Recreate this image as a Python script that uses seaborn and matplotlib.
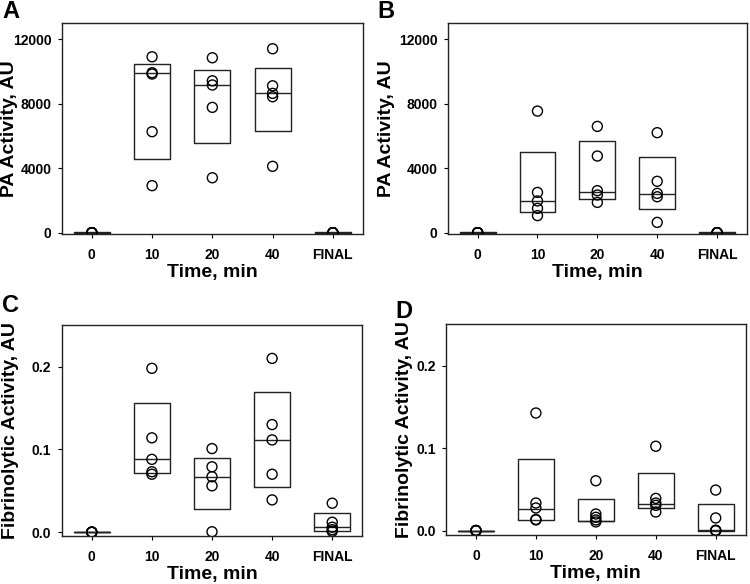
import numpy as np
import pandas as pd
import matplotlib
matplotlib.use("Agg")
import matplotlib.pyplot as plt
import seaborn as sns

categories = ["0", "10", "20", "40", "FINAL"]

# Panel A: PA activity (points per time point)
a_points = {
    "0": [0, 0, 0, 0, 0],
    "10": [10920, 9930, 9850, 6270, 2920],
    "20": [10860, 9430, 9170, 7780, 3410],
    "40": [11420, 9120, 8650, 8440, 4120],
    "FINAL": [0, 0, 0, 0, 0],
}
a_q1 = [0, 4570, 5590, 6310, 0]
a_med = [0, 9910, 9190, 8690, 0]
a_q3 = [50, 10450, 10120, 10240, 50]

# Panel B: PA activity
b_points = {
    "0": [0, 0, 0, 0, 0],
    "10": [7550, 2500, 1970, 1510, 1060],
    "20": [6600, 4760, 2610, 2340, 1880],
    "40": [6210, 3190, 2440, 2230, 640],
    "FINAL": [0, 0, 0, 0, 0],
}
b_q1 = [0, 1260, 2110, 1450, 0]
b_med = [0, 1950, 2520, 2380, 0]
b_q3 = [50, 4990, 5670, 4720, 50]

# Panel C: fibrinolytic activity
c_points = {
    "0": [0, 0, 0, 0, 0],
    "10": [0.198, 0.114, 0.088, 0.073, 0.070],
    "20": [0.101, 0.079, 0.067, 0.056, 0.0005],
    "40": [0.210, 0.130, 0.1115, 0.070, 0.039],
    "FINAL": [0.035, 0.012, 0.006, 0.003, 0.001],
}
c_q1 = [0, 0.0716, 0.0278, 0.0543, 0.0012]
c_med = [0, 0.0881, 0.0672, 0.1115, 0.0068]
c_q3 = [0, 0.1557, 0.0897, 0.1698, 0.0229]

# Panel D: fibrinolytic activity
d_points = {
    "0": [0, 0, 0, 0, 0],
    "10": [0.1425, 0.0334, 0.0274, 0.0135, 0.0129],
    "20": [0.0604, 0.0201, 0.0161, 0.0129, 0.0105],
    "40": [0.1022, 0.039, 0.0334, 0.0306, 0.0225],
    "FINAL": [0.0491, 0.0153, 0.0004, 0.0, 0.0],
}
d_q1 = [0, 0.0129, 0.0113, 0.027, 0.0]
d_med = [0, 0.0262, 0.0121, 0.0322, 0.0002]
d_q3 = [0, 0.0873, 0.0386, 0.070, 0.0322]

pa_ticks = [0, 4000, 8000, 12000]
fib_ticks = [0.0, 0.1, 0.2]
pa_tick_labels = ["0", "4000", "8000", "12000"]
fib_tick_labels = ["0.0", "0.1", "0.2"]

x_label = "Time, min"
pa_label = "PA Activity, AU"
fib_label = "Fibrinolytic Activity, AU"

sns.set_style("ticks")
plt.rcParams["font.family"] = ["Liberation Sans", "DejaVu Sans"]
plt.rcParams["font.weight"] = "bold"
for k in ["text.color", "axes.labelcolor", "xtick.color", "ytick.color", "axes.edgecolor"]:
    plt.rcParams[k] = "black"

fig = plt.figure(figsize=(7.5, 5.84), dpi=100)

panels = [
    ("A", a_points, a_q1, a_med, a_q3, pa_ticks, pa_tick_labels, pa_label, (-100, 13000),
     [61.7, 23.3, 363.0, 234.3], (2, 0), -0.144),
    ("B", b_points, b_q1, b_med, b_q3, pa_ticks, pa_tick_labels, pa_label, (-100, 13000),
     [447.7, 23.3, 747.0, 234.3], (377, 0), -0.177),
    ("C", c_points, c_q1, c_med, c_q3, fib_ticks, fib_tick_labels, fib_label, (-0.005, 0.25),
     [61.7, 325.3, 362.3, 536.3], (2, 294), -0.142),
    ("D", d_points, d_q1, d_med, d_q3, fib_ticks, fib_tick_labels, fib_label, (-0.005, 0.25),
     [446.0, 324.3, 745.7, 534.7], (395, 300), -0.110),
]

W, H = 750.0, 584.0
for letter, pts, q1, med, q3, yt, ytl, ylab, ylim, box, lpos, ylx in panels:
    l, t, r, b = box
    ax = fig.add_axes([l / W, 1 - b / H, (r - l) / W, (b - t) / H])
    rows = [(c, v) for c in categories for v in pts[c]]
    df = pd.DataFrame(rows, columns=["time", "value"])

    stats = []
    for i, c in enumerate(categories):
        stats.append(dict(med=med[i], q1=q1[i], q3=q3[i], whislo=q1[i], whishi=q3[i], fliers=[]))
    ax.bxp(stats, positions=np.arange(len(categories)), widths=0.6, showcaps=False,
           showfliers=False, manage_ticks=False, patch_artist=False,
           boxprops=dict(color="#222222", linewidth=1.0),
           medianprops=dict(color="#222222", linewidth=1.0),
           whiskerprops=dict(color="#222222", linewidth=0))

    sns.stripplot(data=df, x="time", y="value", order=categories, jitter=False,
                  size=7.2, color="white", edgecolor="black", linewidth=1.0, ax=ax, zorder=3)
    for coll in ax.collections:
        coll.set_facecolor("none")

    ax.set_xlim(-0.5, 4.5)
    ax.set_ylim(*ylim)
    ax.set_yticks(yt)
    ax.set_yticklabels(ytl)
    ax.set_xticks(np.arange(len(categories)))
    ax.set_xticklabels(categories)
    ax.tick_params(axis="both", direction="out", length=3, width=0.8, labelsize=10)
    ax.tick_params(axis="x", pad=7)
    ax.tick_params(axis="y", pad=4.5)
    for lab in ax.get_xticklabels() + ax.get_yticklabels():
        lab.set_fontweight("bold")
    for sp in ax.spines.values():
        sp.set_visible(True)
        sp.set_color("#222222")
        sp.set_linewidth(1.0)
    ax.set_xlabel(x_label, fontsize=14, fontweight="bold", labelpad=1.5)
    ax.set_ylabel(ylab, fontsize=14, fontweight="bold")
    ax.yaxis.set_label_coords(ylx, 0.5)
    fig.text(lpos[0] / W, 1 - lpos[1] / H, letter, fontsize=17, fontweight="bold",
             ha="left", va="top")

fig.savefig("out.png", dpi=100)
